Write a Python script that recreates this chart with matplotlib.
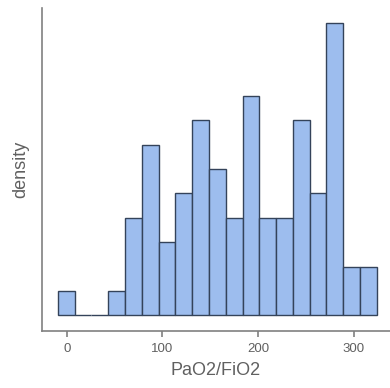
import numpy as np
import matplotlib
matplotlib.use("Agg")
import matplotlib.pyplot as plt

plt.rcParams["font.family"] = ["Liberation Sans", "DejaVu Sans"]

# histogram data
bin_start = -9.4
bin_width = 17.56
counts = [1, 0, 0, 1, 4, 7, 3, 5, 8, 6, 4, 9, 4, 4, 8, 5, 12, 2, 2]
xticks = [0, 100, 200, 300]
xlabel = "PaO2/FiO2"
ylabel = "density"

counts = np.array(counts, dtype=float)
n = counts.sum()
edges = bin_start + bin_width * np.arange(len(counts) + 1)
density = counts / (n * bin_width)

fig = plt.figure(figsize=(3.9, 3.88), dpi=100)
ax = fig.add_axes([0.1077, 0.147, 0.8923, 0.832])

ax.hist(edges[:-1], bins=edges, weights=density, color="#9dbdee",
        edgecolor="#34435a", linewidth=1.0)

unit = 1.0 / (n * bin_width)
ax.set_xlim(-26, 338)
ax.set_ylim(-0.64 * unit, 12.6 * unit)
ax.set_xticks(xticks)
ax.set_yticks([])
for s in ["top", "right"]:
    ax.spines[s].set_visible(False)
for s in ["left", "bottom"]:
    ax.spines[s].set_color("#808080")
    ax.spines[s].set_linewidth(1.2)
ax.tick_params(axis="x", colors="#808080", labelcolor="#606060",
               labelsize=9.5, length=4, width=1.2, pad=5)
ax.set_xlabel(xlabel, fontsize=13, color="#606060", labelpad=5)
ax.set_ylabel(ylabel, fontsize=13, color="#606060", labelpad=9)

fig.savefig("out.png", dpi=100)
